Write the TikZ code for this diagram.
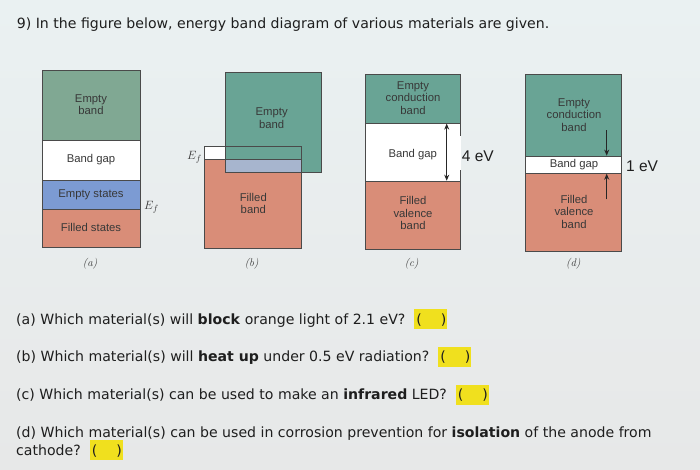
\documentclass[tikz,border=0pt]{standalone}
\usepackage{fontspec}
\newfontfamily\qfont{DejaVu Sans}
\newfontfamily\bfont{Liberation Sans}
\usetikzlibrary{arrows.meta}
\definecolor{bordc}{HTML}{4A4A4A}
\definecolor{greenA}{HTML}{80A893}
\definecolor{bandteal}{HTML}{69A495}
\definecolor{bandorange}{HTML}{D98D78}
\definecolor{bandblue}{HTML}{7C9BD3}
\definecolor{overlapc}{HTML}{A7B5CE}
\definecolor{hlyellow}{HTML}{F0E01E}
\definecolor{txt}{HTML}{1E1E1E}
\definecolor{lbltxt}{HTML}{383838}
\definecolor{bgtop}{HTML}{EAF1F2}
\definecolor{bgbot}{HTML}{E7E8E8}
\newcommand\hlb{{\setlength{\fboxsep}{0pt}\colorbox{hlyellow}{\rule[-5pt]{0pt}{20pt}\makebox[33pt][s]{\kern2pt(\hfill)\kern1pt}}}}
\tikzset{
  band/.style={draw=bordc, line width=0.6pt},
  lbl/.style={font=\bfont\fontsize{11.3}{12.3}\selectfont, text=lbltxt, align=center, inner sep=0pt},
  capt/.style={font=\itshape\fontsize{11}{12}\selectfont, text=lbltxt, inner sep=0pt},
  ev/.style={font=\bfont\fontsize{15.5}{18}\selectfont, text=txt, inner sep=0pt, anchor=base west},
  q/.style={font=\qfont\fontsize{14.1}{18}\selectfont, text=txt, inner sep=0pt, anchor=base west, align=left},
  gaparrow/.style={line width=0.9pt, draw=black!85},
  ef/.style={font=\fontsize{13}{14}\selectfont, text=lbltxt, inner sep=0pt}
}
\begin{document}
\begin{tikzpicture}[x=1pt,y=-1pt]
\shade[top color=bgtop, bottom color=bgbot] (0,0) rectangle (700,469);
\useasboundingbox (0,0) rectangle (700,469);

% title
\node[q] (title) at (16.7,28.3) {9) In the figure below, energy band diagram of various materials are given.};

% ---------- (a)
\fill[greenA] (42.7,70) rectangle (140,140.7);
\fill[white] (42.7,140.7) rectangle (140,180);
\fill[bandblue] (42.7,180) rectangle (140,209.3);
\fill[bandorange] (42.7,209.3) rectangle (140,247.3);
\draw[band] (42.7,70) rectangle (140,247.3);
\draw[band] (42.7,140.7) -- (140,140.7);
\draw[band] (42.7,180) -- (140,180);
\draw[band] (42.7,209.3) -- (140,209.3);
\node[lbl] (aempty) at (91,105) {Empty\\band};
\node[lbl] (agap) at (91,160) {Band gap};
\node[lbl] (astates) at (91,195) {Empty states};
\node[lbl] (afilled) at (91,227.7) {Filled states};
\node[ef] (aef) at (151.5,207) {$E_f$};
\node[capt] (acap) at (90,264) {(a)};

% ---------- (b)
\fill[bandorange] (204.3,159) rectangle (301,248.3);
\fill[white] (204.3,146.7) rectangle (301,159);
\fill[bandteal] (225,72.3) rectangle (321,172.3);
\fill[overlapc] (225,159) rectangle (301,172.3);
\draw[band] (225,72.3) rectangle (321,172.3);
\draw[band] (204.3,146.7) rectangle (301,248.3);
\draw[band] (204.3,159) -- (301,159);
\node[lbl] (bempty) at (271.7,118.3) {Empty\\band};
\node[lbl] (bfilled) at (253.3,203.3) {Filled\\band};
\node[ef, anchor=east] (bef) at (202,157) {$E_f$};
\node[capt] (bcap) at (251.7,264) {(b)};

% ---------- (c)
\fill[bandteal] (365,74) rectangle (460.7,123.3);
\fill[white] (365,123.3) rectangle (460.7,181);
\fill[bandorange] (365,181) rectangle (460.7,249);
\draw[band] (365,74) rectangle (460.7,123.3);
\draw[band] (365,181) rectangle (460.7,249);
\draw[band] (365,123.3) -- (365,181);
\draw[band] (460.7,123.3) -- (460.7,136);
\draw[band] (460.7,170) -- (460.7,181);
\coordinate (ctop) at (446.7,123.6);
\coordinate (cbot) at (446.7,180.7);
\draw[gaparrow, {Stealth[length=6pt,width=5pt]}-{Stealth[length=6pt,width=5pt]}] (ctop) -- (cbot);
\node[lbl] (cempty) at (413,98) {Empty\\conduction\\band};
\node[lbl] (cgap) at (412.7,155) {Band gap};
\node[lbl] (cfilled) at (413,213) {Filled\\valence\\band};
\node[ev] (cev) at (461.7,161.7) {4 eV};
\node[capt] (ccap) at (411.7,264) {(c)};

% ---------- (d)
\fill[bandteal] (525,74) rectangle (621,156);
\fill[white] (525,156) rectangle (621,173.3);
\fill[bandorange] (525,173.3) rectangle (621,251.7);
\draw[band] (525,74) rectangle (621,251.7);
\draw[band] (525,156) -- (621,156);
\draw[band] (525,173.3) -- (621,173.3);
\coordinate (dd1) at (606.7,130);
\coordinate (dd2) at (606.7,155.6);
\coordinate (du1) at (606.7,199.3);
\coordinate (du2) at (606.7,173.7);
\draw[gaparrow, -{Stealth[length=6pt,width=5pt]}] (dd1) -- (dd2);
\draw[gaparrow, -{Stealth[length=6pt,width=5pt]}] (du1) -- (du2);
\node[lbl] (dempty) at (574,115) {Empty\\conduction\\band};
\node[lbl] (dgap) at (574,165) {Band gap};
\node[lbl] (dfilled) at (574,211.7) {Filled\\valence\\band};
\node[ev] (dev) at (626,171) {1 eV};
\node[capt] (dcap) at (573.3,264) {(d)};

% ---------- questions
\node[q] (qa) at (16,324) {(a) Which material(s) will \textbf{block} orange light of 2.1 eV?\ \ \hlb};
\node[q] (qb) at (16,361.5) {(b) Which material(s) will \textbf{heat up} under 0.5 eV radiation?\ \ \hlb};
\node[q] (qc) at (16,399.5) {(c) Which material(s) can be used to make an \textbf{infrared} LED?\ \ \hlb};
\node[q] (qd) at (16,455) {(d) Which material(s) can be used in corrosion prevention for \textbf{isolation} of the anode from\\cathode?\ \ \hlb};
\end{tikzpicture}
\end{document}
